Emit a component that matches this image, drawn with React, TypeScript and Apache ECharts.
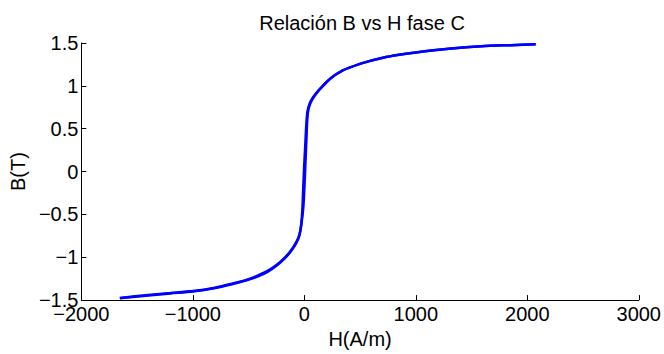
import React, { useEffect, useRef } from "react";
import * as echarts from "echarts";

const titleText = "Relación B vs H fase C";
const xName = "H(A/m)";
const yName = "B(T)";

// ascending branch (H in A/m, B in T)
const hUp = [-1655, -1400, -1200, -1000, -800, -650, -520, -420, -330, -250, -180, -120, -75, -45, -25, -8, 2, 10, 18, 26, 36, 55, 80, 110, 145, 200, 263, 330, 411, 520, 705, 850, 1000, 1295, 1590, 1850, 2075];
const bUp = [-1.475, -1.44, -1.418, -1.395, -1.355, -1.31, -1.265, -1.215, -1.16, -1.09, -1.01, -0.92, -0.83, -0.74, -0.6, -0.4, -0.15, 0.1, 0.35, 0.6, 0.72, 0.8, 0.86, 0.915, 0.97, 1.045, 1.115, 1.17, 1.215, 1.265, 1.327, 1.362, 1.39, 1.432, 1.462, 1.475, 1.485];

// descending branch
const hDown = [2075, 1850, 1590, 1295, 1000, 850, 705, 520, 411, 330, 263, 200, 145, 110, 80, 50, 28, 18, 8, -2, -10, -18, -28, -45, -75, -120, -180, -250, -330, -420, -520, -650, -800, -1000, -1200, -1400, -1655];
const bDown = [1.485, 1.475, 1.462, 1.432, 1.39, 1.362, 1.327, 1.265, 1.215, 1.17, 1.115, 1.045, 0.97, 0.92, 0.87, 0.8, 0.7, 0.55, 0.3, 0.05, -0.2, -0.45, -0.62, -0.75, -0.84, -0.93, -1.02, -1.1, -1.17, -1.225, -1.27, -1.315, -1.36, -1.4, -1.422, -1.445, -1.478];

const xMin = -2000, xMax = 3000, xStep = 1000;
const yMin = -1.5, yMax = 1.5, yStep = 0.5;

const font = "Liberation Sans, Arial, Helvetica, sans-serif";
const fmt = (v: number) => String(v).replace("-", "\u2212");

export default function App() {
  const ref = useRef<HTMLDivElement>(null);
  useEffect(() => {
    if (!ref.current) return;
    const chart = echarts.init(ref.current, undefined, { renderer: "svg" });
    const up = hUp.map((h, i) => [h, bUp[i]]);
    const down = hDown.map((h, i) => [h, bDown[i]]);
    chart.setOption({
      animation: false,
      backgroundColor: "#ffffff",
      title: {
        text: titleText,
        left: 357,
        top: 8,
        textAlign: "center",
        textStyle: { fontFamily: font, fontSize: 20, fontWeight: "normal", color: "#000" },
      },
      grid: { left: 74, right: 25, top: 43, bottom: 45, containLabel: false },
      xAxis: {
        type: "value",
        min: xMin,
        max: xMax,
        interval: xStep,
        name: xName,
        nameLocation: "middle",
        nameGap: 22,
        nameTextStyle: { fontFamily: font, fontSize: 20, color: "#000" },
        axisLine: { show: true, onZero: false, lineStyle: { color: "#000", width: 1 } },
        axisTick: { show: true, inside: true, length: 5, lineStyle: { color: "#000" } },
        axisLabel: { fontFamily: font, fontSize: 20, color: "#000", margin: 4, formatter: fmt },
        splitLine: { show: false },
      },
      yAxis: {
        type: "value",
        min: yMin,
        max: yMax,
        interval: yStep,
        name: yName,
        nameLocation: "middle",
        nameGap: 46,
        nameTextStyle: { fontFamily: font, fontSize: 20, color: "#000" },
        axisLine: { show: true, onZero: false, lineStyle: { color: "#000", width: 1 } },
        axisTick: { show: true, inside: true, length: 5, lineStyle: { color: "#000" } },
        axisLabel: { fontFamily: font, fontSize: 20, color: "#000", margin: 3, formatter: fmt },
        splitLine: { show: false },
      },
      series: [
        {
          type: "line",
          data: up,
          showSymbol: false,
          smooth: 0.25,
          lineStyle: { color: "#0000ff", width: 2.5 },
        },
        {
          type: "line",
          data: down,
          showSymbol: false,
          smooth: 0.25,
          lineStyle: { color: "#0000ff", width: 2.5 },
        },
      ],
    });
    return () => chart.dispose();
  }, []);
  return (
    <div
      ref={ref}
      style={{ position: "fixed", left: 0, top: 0, width: 664, height: 354 }}
    />
  );
}
